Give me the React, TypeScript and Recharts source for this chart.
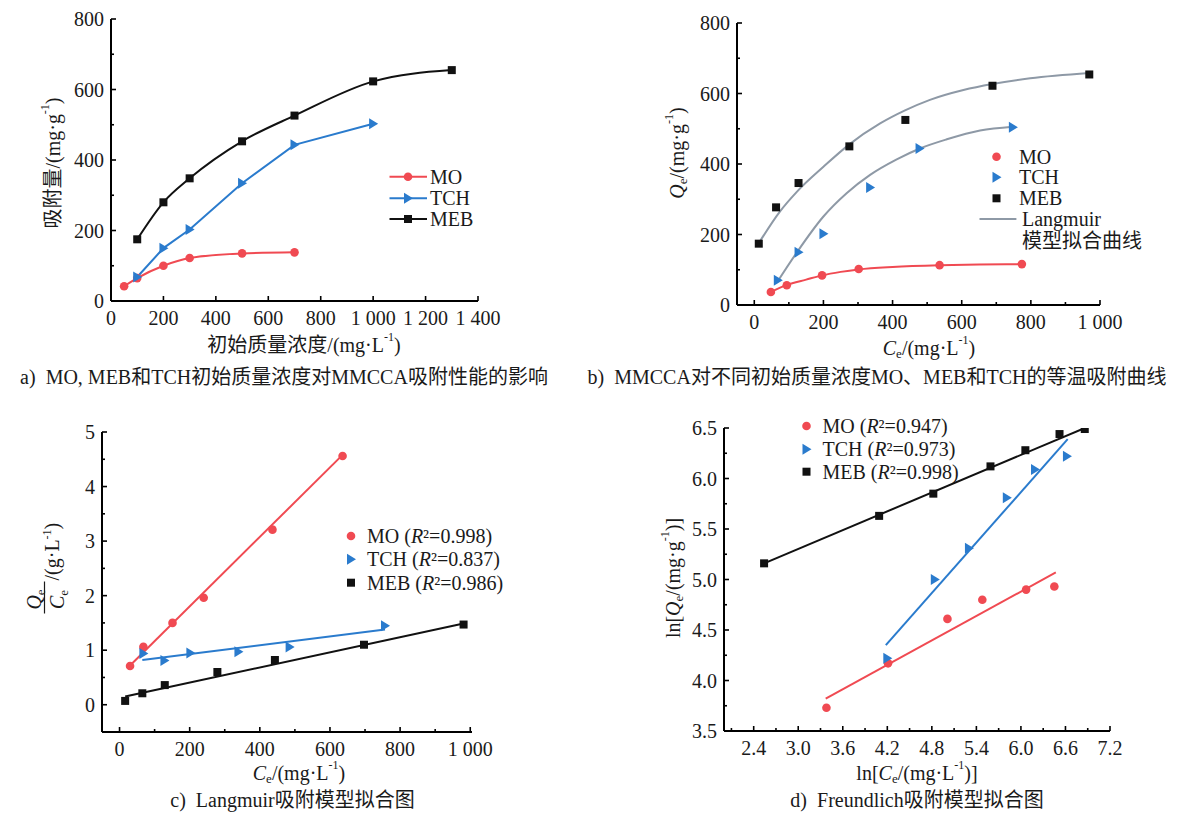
import React from "react";
import { ComposedChart, Line, Scatter, XAxis, YAxis } from "recharts";

const FONT = '"Liberation Serif", "Noto Sans CJK SC", serif';
const RED = "#f04a52";
const BLUE = "#2a7bcd";
const BLACK = "#111111";
const GRAY = "#8e99a6";

const names = ["MO", "TCH", "MEB"];

// a) initial concentration vs adsorbed amount
const aMoX = [50, 100, 200, 300, 500, 700];
const aMoY = [42, 65, 100, 122, 135, 138];
const aTchX = [100, 200, 300, 500, 700, 1000];
const aTchY = [68, 150, 203, 334, 443, 503];
const aMebX = [100, 200, 300, 500, 700, 1000, 1300];
const aMebY = [175, 280, 348, 453, 526, 623, 655];

// b) isotherms + Langmuir curves
const bMoX = [48, 94, 196, 302, 536, 774];
const bMoY = [37, 56, 84, 102, 113, 116];
const bTchX = [68, 128, 200, 335, 478, 748];
const bTchY = [70, 150, 202, 333, 444, 504];
const bMebX = [13, 63, 128, 275, 437, 689, 969];
const bMebY = [174, 277, 346, 450, 525, 622, 654];
const bFitMoX = [48, 94, 150, 196, 250, 302, 400, 536, 650, 774];
const bFitMoY = [37, 57, 72, 84, 94, 101, 108, 113, 115, 116];
const bFitTchX = [65, 123, 200, 267, 335, 412, 479, 557, 653, 748];
const bFitTchY = [63, 149, 251, 317, 369, 413, 444, 470, 495, 506];
const bFitMebX = [14, 74, 123, 200, 274, 364, 436, 508, 605, 689, 798, 969];
const bFitMebY = [177, 265, 321, 392, 455, 515, 552, 582, 610, 627, 643, 658];

// c) Langmuir linear fit
const cMoX = [30, 68, 151, 240, 436, 636];
const cMoY = [0.71, 1.06, 1.5, 1.96, 3.21, 4.56];
const cTchX = [68, 128, 202, 339, 485, 757];
const cTchY = [0.94, 0.81, 0.95, 0.97, 1.06, 1.45];
const cMebX = [16, 65, 129, 279, 443, 697, 981];
const cMebY = [0.07, 0.21, 0.36, 0.6, 0.82, 1.1, 1.47];
const cFitMoX = [30, 636];
const cFitMoY = [0.72, 4.58];
const cFitTchX = [65, 757];
const cFitTchY = [0.82, 1.38];
const cFitMebX = [16, 981];
const cFitMebY = [0.15, 1.49];
const cR2 = ["0.998", "0.837", "0.986"];

// d) Freundlich fit
const dMoX = [3.38, 4.21, 5.01, 5.48, 6.07, 6.45];
const dMoY = [3.73, 4.17, 4.61, 4.8, 4.9, 4.93];
const dTchX = [4.2, 4.84, 5.3, 5.81, 6.19, 6.62];
const dTchY = [4.22, 5.0, 5.31, 5.81, 6.09, 6.22];
const dMebX = [2.54, 4.09, 4.82, 5.59, 6.06, 6.52, 6.86];
const dMebY = [5.16, 5.63, 5.85, 6.12, 6.28, 6.44, 6.49];
const dFitMoX = [3.37, 6.47];
const dFitMoY = [3.82, 5.07];
const dFitTchX = [4.18, 6.63];
const dFitTchY = [4.35, 6.39];
const dFitMebX = [2.54, 6.86];
const dFitMebY = [5.16, 6.5];
const dR2 = ["0.947", "0.973", "0.998"];

// ticks
const aXTicks = [0, 200, 400, 600, 800, 1000, 1200, 1400];
const aYTicks = [0, 100, 200, 300, 400, 500, 600, 700, 800];
const bXTicks = [0, 100, 200, 300, 400, 500, 600, 700, 800, 900, 1000];
const cYTicks = [0, 0.5, 1, 1.5, 2, 2.5, 3, 3.5, 4, 4.5, 5];
const dXTicks = [2.1, 2.4, 2.7, 3.0, 3.3, 3.6, 3.9, 4.2, 4.5, 4.8, 5.1, 5.4, 5.7, 6.0, 6.3, 6.6, 6.9, 7.2];
const dXMajor = [2.4, 3.0, 3.6, 4.2, 4.8, 5.4, 6.0, 6.6, 7.2];
const dYTicks = [3.5, 3.75, 4.0, 4.25, 4.5, 4.75, 5.0, 5.25, 5.5, 5.75, 6.0, 6.25, 6.5];
const dYMajor = [3.5, 4.0, 4.5, 5.0, 5.5, 6.0, 6.5];

const pts = (xs: number[], ys: number[]) => xs.map((x, i) => ({ x, y: ys[i] }));
const everyN = (ticks: number[], n: number) => ticks.filter((t) => Math.abs(t / n - Math.round(t / n)) < 1e-6);
const thousands = (v: number) => (v >= 1000 ? `${Math.floor(v / 1000)} ${String(v % 1000).padStart(3, "0")}` : String(v));

type Kind = "circle" | "tri" | "square";

function Marker({ kind, cx, cy, color }: { kind: Kind; cx: number; cy: number; color: string }) {
  if (kind === "circle") return <circle cx={cx} cy={cy} r={4.3} fill={color} />;
  if (kind === "square") return <rect x={cx - 4} y={cy - 4} width={8} height={8} fill={color} />;
  return <polygon points={`${cx - 4},${cy - 5.5} ${cx + 5},${cy} ${cx - 4},${cy + 5.5}`} fill={color} />;
}

const kinds: Kind[] = ["circle", "tri", "square"];
const colors = [RED, BLUE, BLACK];

function makeTick(dir: "x" | "y", majors: number[], fmt: (v: number) => string) {
  return (props: any) => {
    const { x, y, payload } = props;
    const v = payload.value as number;
    const major = majors.some((m) => Math.abs(m - v) < 1e-6);
    const len = major ? 5 : 3;
    if (dir === "x") {
      return (
        <g>
          <line x1={x} x2={x} y1={y} y2={y - len} stroke="#000" strokeWidth={1.6} />
          {major && (
            <text x={x} y={y + 17} textAnchor="middle" dominantBaseline="central" fontSize={20} fontFamily={FONT} fill="#1a1a1a">
              {fmt(v)}
            </text>
          )}
        </g>
      );
    }
    return (
      <g>
        <line x1={x} x2={x + len} y1={y} y2={y} stroke="#000" strokeWidth={1.6} />
        {major && (
          <text x={x - 7} y={y} textAnchor="end" dominantBaseline="central" fontSize={20} fontFamily={FONT} fill="#1a1a1a">
            {fmt(v)}
          </text>
        )}
      </g>
    );
  };
}

const ML = 50;
const MT = 10;
const MR = 45;
const XH = 40;

function Panel(props: {
  rect: { x: number; y: number; w: number; h: number };
  xDomain: [number, number];
  yDomain: [number, number];
  xTicks: number[];
  yTicks: number[];
  xMajor: number[];
  yMajor: number[];
  xFmt: (v: number) => string;
  yFmt: (v: number) => string;
  children: React.ReactNode;
}) {
  const { rect } = props;
  return (
    <div style={{ position: "absolute", left: rect.x - ML, top: rect.y - MT }}>
      <ComposedChart width={rect.w + ML + MR} height={rect.h + MT + XH} margin={{ top: MT, right: MR, bottom: 0, left: 0 }}>
        <XAxis
          type="number"
          dataKey="x"
          domain={props.xDomain}
          ticks={props.xTicks}
          interval={0}
          allowDataOverflow
          height={XH}
          tickLine={false}
          tickSize={0}
          tickMargin={0}
          tick={makeTick("x", props.xMajor, props.xFmt)}
          axisLine={{ stroke: "#000", strokeWidth: 2 }}
        />
        <YAxis
          type="number"
          dataKey="y"
          domain={props.yDomain}
          ticks={props.yTicks}
          interval={0}
          allowDataOverflow
          width={ML}
          tickLine={false}
          tickSize={0}
          tickMargin={0}
          tick={makeTick("y", props.yMajor, props.yFmt)}
          axisLine={{ stroke: "#000", strokeWidth: 2 }}
        />
        {props.children}
      </ComposedChart>
    </div>
  );
}

function lineWithDots(key: string, data: { x: number; y: number }[], kind: Kind, color: string, smooth: boolean) {
  return (
    <Line
      key={key}
      data={data}
      dataKey="y"
      type={smooth ? "monotone" : "linear"}
      stroke={color}
      strokeWidth={2}
      isAnimationActive={false}
      activeDot={false}
      dot={(p: any) => <Marker key={`${key}-${p.index}`} kind={kind} cx={p.cx} cy={p.cy} color={color} />}
    />
  );
}

function fitLine(key: string, data: { x: number; y: number }[], color: string, smooth: boolean) {
  return (
    <Line
      key={key}
      data={data}
      dataKey="y"
      type={smooth ? "monotone" : "linear"}
      stroke={color}
      strokeWidth={2}
      dot={false}
      activeDot={false}
      isAnimationActive={false}
    />
  );
}

function scatter(key: string, data: { x: number; y: number }[], kind: Kind, color: string) {
  return (
    <Scatter
      key={key}
      data={data}
      dataKey="y"
      fill={color}
      isAnimationActive={false}
      shape={(p: any) => <Marker kind={kind} cx={p.cx} cy={p.cy} color={color} />}
    />
  );
}

const T = { fontFamily: FONT, fontSize: 20, fill: "#1a1a1a", dominantBaseline: "central" as const };

function Overlay() {
  const legA = [176.7, 198.3, 219];
  const legB = [156.7, 177.3, 198.3];
  const legC = [536, 559.3, 582.7];
  const legD = [426, 449.3, 471.7];
  return (
    <svg width={1180} height={813} style={{ position: "absolute", left: 0, top: 0, pointerEvents: "none" }}>
      {/* panel a */}
      <text {...T} transform="translate(53,163) rotate(-90)" textAnchor="middle">
        吸附量/(mg·g<tspan fontSize={12} dy={-8}>-1</tspan><tspan dy={8}>)</tspan>
      </text>
      <text {...T} x={304} y={345} textAnchor="middle">
        初始质量浓度/(mg·L<tspan fontSize={12} dy={-8}>-1</tspan><tspan dy={8}>)</tspan>
      </text>
      <text {...T} x={284} y={377} textAnchor="middle">
        {"a)\u00a0\u00a0MO, MEB和TCH初始质量浓度对MMCCA吸附性能的影响"}
      </text>
      {names.map((n, i) => (
        <g key={`la-${n}`}>
          <line x1={389.5} x2={427} y1={legA[i]} y2={legA[i]} stroke={colors[i]} strokeWidth={2} />
          <Marker kind={kinds[i]} cx={408} cy={legA[i]} color={colors[i]} />
          <text {...T} x={430} y={legA[i]}>{n}</text>
        </g>
      ))}

      {/* panel b */}
      <text {...T} transform="translate(677,153) rotate(-90)" textAnchor="middle">
        <tspan fontStyle="italic">Q</tspan>
        <tspan fontSize={13} dy={5}>e</tspan>
        <tspan dy={-5}>/(mg·g</tspan>
        <tspan fontSize={12} dy={-8}>-1</tspan>
        <tspan dy={8}>)</tspan>
      </text>
      <text {...T} x={929} y={348} textAnchor="middle">
        <tspan fontStyle="italic">C</tspan>
        <tspan fontSize={13} dy={5}>e</tspan>
        <tspan dy={-5}>/(mg·L</tspan>
        <tspan fontSize={12} dy={-8}>-1</tspan>
        <tspan dy={8}>)</tspan>
      </text>
      <text {...T} x={877} y={377} textAnchor="middle">
        {"b)\u00a0\u00a0MMCCA对不同初始质量浓度MO、MEB和TCH的等温吸附曲线"}
      </text>
      {names.map((n, i) => (
        <g key={`lb-${n}`}>
          <Marker kind={kinds[i]} cx={996.5} cy={legB[i]} color={colors[i]} />
          <text {...T} x={1019} y={legB[i]}>{n}</text>
        </g>
      ))}
      <line x1={979.5} x2={1016.4} y1={219} y2={219} stroke={GRAY} strokeWidth={2} />
      <text {...T} x={1022} y={218.5}>Langmuir</text>
      <text {...T} x={1022} y={241}>模型拟合曲线</text>

      {/* panel c */}
      <g transform="translate(44.5,597.5) rotate(-90)" fontFamily={FONT} fill="#1a1a1a">
        <line x1={-16} x2={16} y1={0} y2={0} stroke="#1a1a1a" strokeWidth={1.2} />
        <text x={-2} y={-4} fontSize={20} textAnchor="middle">
          <tspan fontStyle="italic">Q</tspan>
          <tspan fontSize={13} dy={4}>e</tspan>
        </text>
        <text x={-2} y={19} fontSize={20} textAnchor="middle">
          <tspan fontStyle="italic">C</tspan>
          <tspan fontSize={13} dy={4}>e</tspan>
        </text>
        <text x={17} y={14} fontSize={20}>
          /(g·L<tspan fontSize={12} dy={-8}>-1</tspan>
          <tspan dy={8}>)</tspan>
        </text>
      </g>
      <text {...T} x={299} y={773} textAnchor="middle">
        <tspan fontStyle="italic">C</tspan>
        <tspan fontSize={13} dy={5}>e</tspan>
        <tspan dy={-5}>/(mg·L</tspan>
        <tspan fontSize={12} dy={-8}>-1</tspan>
        <tspan dy={8}>)</tspan>
      </text>
      <text {...T} x={292.5} y={800} textAnchor="middle">
        {"c)\u00a0\u00a0Langmuir吸附模型拟合图"}
      </text>
      {names.map((n, i) => (
        <g key={`lc-${n}`}>
          <Marker kind={kinds[i]} cx={351} cy={legC[i]} color={colors[i]} />
          <text {...T} x={367} y={legC[i]}>
            {`${n} (`}
            <tspan fontStyle="italic">R</tspan>
            {`²=${cR2[i]})`}
          </text>
        </g>
      ))}

      {/* panel d */}
      <text {...T} transform="translate(673,578) rotate(-90)" textAnchor="middle">
        ln[<tspan fontStyle="italic">Q</tspan>
        <tspan fontSize={13} dy={5}>e</tspan>
        <tspan dy={-5}>/(mg·g</tspan>
        <tspan fontSize={12} dy={-8}>-1</tspan>
        <tspan dy={8}>)]</tspan>
      </text>
      <text {...T} x={917} y={773} textAnchor="middle">
        ln[<tspan fontStyle="italic">C</tspan>
        <tspan fontSize={13} dy={5}>e</tspan>
        <tspan dy={-5}>/(mg·L</tspan>
        <tspan fontSize={12} dy={-8}>-1</tspan>
        <tspan dy={8}>)]</tspan>
      </text>
      <text {...T} x={917} y={800} textAnchor="middle">
        {"d)\u00a0\u00a0Freundlich吸附模型拟合图"}
      </text>
      {names.map((n, i) => (
        <g key={`ld-${n}`}>
          <Marker kind={kinds[i]} cx={806.5} cy={legD[i]} color={colors[i]} />
          <text {...T} x={822.5} y={legD[i]}>
            {`${n} (`}
            <tspan fontStyle="italic">R</tspan>
            {`²=${dR2[i]})`}
          </text>
        </g>
      ))}
    </svg>
  );
}

export default function App() {
  return (
    <div style={{ position: "absolute", left: 0, top: 0, width: 1180, height: 813, background: "#fff", fontFamily: FONT }}>
      <Panel
        rect={{ x: 111, y: 19, w: 367, h: 282 }}
        xDomain={[0, 1400]}
        yDomain={[0, 800]}
        xTicks={aXTicks}
        yTicks={aYTicks}
        xMajor={aXTicks}
        yMajor={everyN(aYTicks, 200)}
        xFmt={thousands}
        yFmt={(v) => String(v)}
      >
        {lineWithDots("aMo", pts(aMoX, aMoY), "circle", RED, true)}
        {lineWithDots("aTch", pts(aTchX, aTchY), "tri", BLUE, false)}
        {lineWithDots("aMeb", pts(aMebX, aMebY), "square", BLACK, true)}
      </Panel>

      <Panel
        rect={{ x: 737, y: 23, w: 363, h: 282 }}
        xDomain={[-50, 1000]}
        yDomain={[0, 800]}
        xTicks={bXTicks}
        yTicks={aYTicks}
        xMajor={everyN(bXTicks, 200)}
        yMajor={everyN(aYTicks, 200)}
        xFmt={thousands}
        yFmt={(v) => String(v)}
      >
        {scatter("bMo", pts(bMoX, bMoY), "circle", RED)}
        {scatter("bTch", pts(bTchX, bTchY), "tri", BLUE)}
        {scatter("bMeb", pts(bMebX, bMebY), "square", BLACK)}
        {fitLine("bFitMo", pts(bFitMoX, bFitMoY), RED, true)}
        {fitLine("bFitTch", pts(bFitTchX, bFitTchY), GRAY, true)}
        {fitLine("bFitMeb", pts(bFitMebX, bFitMebY), GRAY, true)}
      </Panel>

      <Panel
        rect={{ x: 102, y: 432, w: 370, h: 300 }}
        xDomain={[-50, 1005]}
        yDomain={[-0.5, 5]}
        xTicks={bXTicks}
        yTicks={cYTicks}
        xMajor={everyN(bXTicks, 200)}
        yMajor={everyN(cYTicks, 1)}
        xFmt={thousands}
        yFmt={(v) => String(v)}
      >
        {scatter("cMo", pts(cMoX, cMoY), "circle", RED)}
        {scatter("cTch", pts(cTchX, cTchY), "tri", BLUE)}
        {scatter("cMeb", pts(cMebX, cMebY), "square", BLACK)}
        {fitLine("cFitMo", pts(cFitMoX, cFitMoY), RED, false)}
        {fitLine("cFitTch", pts(cFitTchX, cFitTchY), BLUE, false)}
        {fitLine("cFitMeb", pts(cFitMebX, cFitMebY), BLACK, false)}
      </Panel>

      <Panel
        rect={{ x: 724, y: 428, w: 386, h: 303 }}
        xDomain={[2, 7.2]}
        yDomain={[3.5, 6.5]}
        xTicks={dXTicks}
        yTicks={dYTicks}
        xMajor={dXMajor}
        yMajor={dYMajor}
        xFmt={(v) => v.toFixed(1)}
        yFmt={(v) => v.toFixed(1)}
      >
        {scatter("dMo", pts(dMoX, dMoY), "circle", RED)}
        {scatter("dTch", pts(dTchX, dTchY), "tri", BLUE)}
        {scatter("dMeb", pts(dMebX, dMebY), "square", BLACK)}
        {fitLine("dFitMo", pts(dFitMoX, dFitMoY), RED, false)}
        {fitLine("dFitTch", pts(dFitTchX, dFitTchY), BLUE, false)}
        {fitLine("dFitMeb", pts(dFitMebX, dFitMebY), BLACK, false)}
      </Panel>

      <Overlay />
    </div>
  );
}
